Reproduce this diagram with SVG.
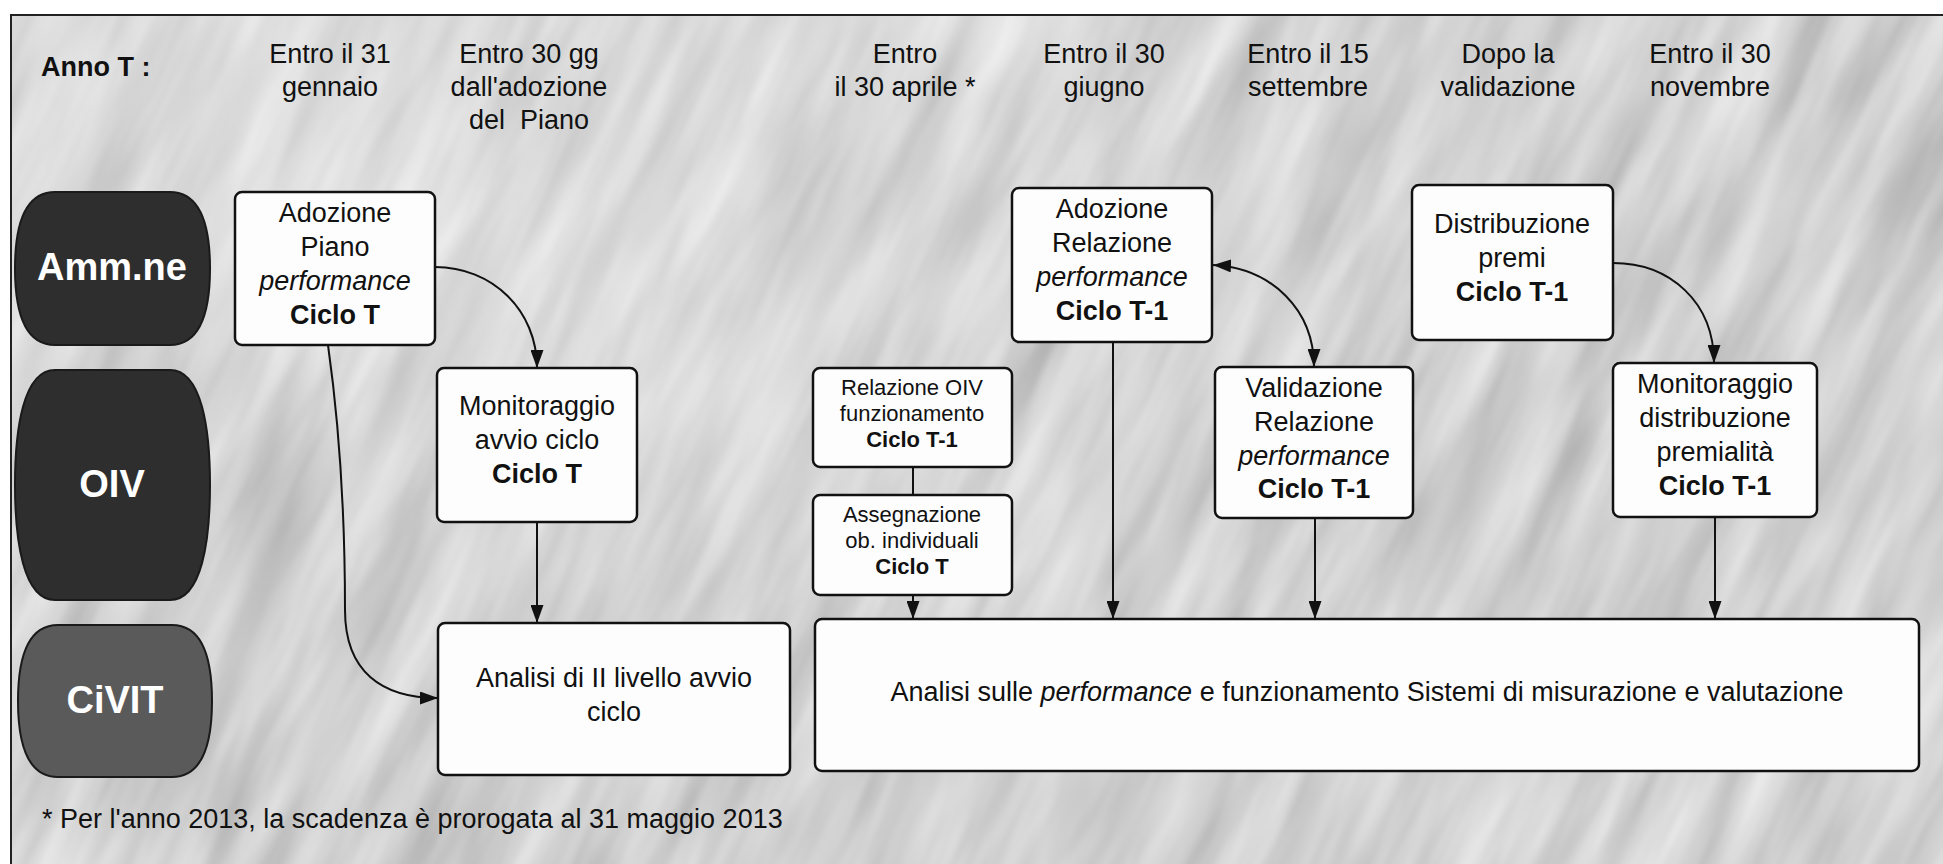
<svg xmlns="http://www.w3.org/2000/svg" width="1943" height="864" viewBox="0 0 1943 864">
<defs>
<style>
.t{font-family:"Liberation Sans",Arial,sans-serif;font-size:27px;fill:#111;text-anchor:middle}
.b{font-weight:bold}
.i{font-style:italic}
.s{font-size:22px}
.lane{font-family:"Liberation Sans",Arial,sans-serif;font-size:38px;font-weight:bold;fill:#fff;text-anchor:middle}
.box{fill:#fdfdfd;stroke:#111;stroke-width:2.5}
.barrel{stroke:#1a1a1a;stroke-width:2}
.conn{fill:none;stroke:#111;stroke-width:2}
</style>
<marker id="ah" viewBox="0 0 18 13" refX="18" refY="6.5" markerWidth="18" markerHeight="13" markerUnits="userSpaceOnUse" orient="auto-start-reverse">
<path d="M0,0 L18,6.5 L0,13 z" fill="#111"/>
</marker>
<filter id="tex" x="0" y="0" width="1" height="1">
<feTurbulence type="fractalNoise" baseFrequency="0.004 0.025" numOctaves="3" seed="7" result="n"/>
<feColorMatrix in="n" type="matrix" values="0.34 0.34 0 0 0.3  0.34 0.34 0 0 0.3  0.34 0.34 0 0 0.3  0 0 0 0 1"/>
</filter>
<radialGradient id="glow" cx="0.2" cy="0.15" r="0.6">
<stop offset="0" stop-color="#ffffff" stop-opacity="0.3"/>
<stop offset="1" stop-color="#ffffff" stop-opacity="0"/>
</radialGradient>
<clipPath id="frame"><rect x="11" y="15" width="1932" height="849"/></clipPath>
</defs>

<rect x="0" y="0" width="1943" height="864" fill="#ffffff"/>
<g id="background" clip-path="url(#frame)">
<rect x="11" y="15" width="1932" height="849" fill="#a8a8a8"/>
<rect x="-700" y="-900" width="3400" height="2600" fill="#a8a8a8" filter="url(#tex)" transform="rotate(-65 970 430)"/>
<rect x="11" y="15" width="1932" height="849" fill="url(#glow)"/>
</g>
<path d="M11,864 V15 H1943" fill="none" stroke="#222" stroke-width="2"/>

<g id="header">
<text class="t b" x="41" y="76" style="text-anchor:start">Anno T :</text>
<text class="t" x="330" y="63">Entro il 31</text>
<text class="t" x="330" y="96">gennaio</text>
<text class="t" x="529" y="63">Entro 30 gg</text>
<text class="t" x="529" y="96">dall'adozione</text>
<text class="t" x="529" y="129" xml:space="preserve">del  Piano</text>
<text class="t" x="905" y="63">Entro</text>
<text class="t" x="905" y="96">il 30 aprile *</text>
<text class="t" x="1104" y="63">Entro il 30</text>
<text class="t" x="1104" y="96">giugno</text>
<text class="t" x="1308" y="63">Entro il 15</text>
<text class="t" x="1308" y="96">settembre</text>
<text class="t" x="1508" y="63">Dopo la</text>
<text class="t" x="1508" y="96">validazione</text>
<text class="t" x="1710" y="63">Entro il 30</text>
<text class="t" x="1710" y="96">novembre</text>
</g>

<g id="lane-amm">
<path class="barrel" fill="#2e2e2e" d="M55,192 H170 C202,192 210,230 210,268.5 C210,307 202,345 170,345 H55 C23,345 15,307 15,268.5 C15,230 23,192 55,192 Z"/>
<text class="lane" x="112" y="280">Amm.ne</text>
</g>
<g id="lane-oiv">
<path class="barrel" fill="#2e2e2e" d="M55,370 H170 C202,370 210,430 210,485 C210,540 202,600 170,600 H55 C23,600 15,540 15,485 C15,430 23,370 55,370 Z"/>
<text class="lane" x="112" y="497">OIV</text>
</g>
<g id="lane-civit">
<path class="barrel" fill="#5a5a5a" d="M58,625 H172 C204,625 212,662 212,701 C212,740 204,777 172,777 H58 C26,777 18,740 18,701 C18,662 26,625 58,625 Z"/>
<text class="lane" x="115" y="713">CiVIT</text>
</g>

<g id="connectors">
<path class="conn" d="M435,267 C492,267 537,310 537,368" marker-end="url(#ah)"/>
<path class="conn" d="M328,345 C340,430 345,520 345,610 C345,672 382,698 438,698" marker-end="url(#ah)"/>
<path class="conn" d="M537,522 L537,623" marker-end="url(#ah)"/>
<path class="conn" d="M913,467 L913,495"/>
<path class="conn" d="M913,595 L913,619" marker-end="url(#ah)"/>
<path class="conn" d="M1113,342 L1113,619" marker-end="url(#ah)"/>
<path class="conn" d="M1213,265 C1272,268 1314,310 1314,367" marker-start="url(#ah)" marker-end="url(#ah)"/>
<path class="conn" d="M1315,518 L1315,619" marker-end="url(#ah)"/>
<path class="conn" d="M1613,263 C1670,263 1714,302 1714,363" marker-end="url(#ah)"/>
<path class="conn" d="M1715,517 L1715,619" marker-end="url(#ah)"/>
</g>

<g id="n-adozione-piano">
<rect class="box" x="235" y="192" width="200" height="153" rx="7"/>
<text class="t" x="335" y="222">Adozione</text>
<text class="t" x="335" y="256">Piano</text>
<text class="t i" x="335" y="290">performance</text>
<text class="t b" x="335" y="324">Ciclo T</text>
</g>
<g id="n-monitoraggio-avvio">
<rect class="box" x="437" y="368" width="200" height="154" rx="7"/>
<text class="t" x="537" y="415">Monitoraggio</text>
<text class="t" x="537" y="449">avvio ciclo</text>
<text class="t b" x="537" y="483">Ciclo T</text>
</g>
<g id="n-analisi-ii">
<rect class="box" x="438" y="623" width="352" height="152" rx="7"/>
<text class="t" x="614" y="687">Analisi di II livello avvio</text>
<text class="t" x="614" y="721">ciclo</text>
</g>
<g id="n-relazione-oiv">
<rect class="box" x="813" y="368" width="199" height="99" rx="7"/>
<text class="t s" x="912" y="395">Relazione OIV</text>
<text class="t s" x="912" y="421">funzionamento</text>
<text class="t s b" x="912" y="447">Ciclo T-1</text>
</g>
<g id="n-assegnazione">
<rect class="box" x="813" y="495" width="199" height="100" rx="7"/>
<text class="t s" x="912" y="522">Assegnazione</text>
<text class="t s" x="912" y="548">ob. individuali</text>
<text class="t s b" x="912" y="574">Ciclo T</text>
</g>
<g id="n-adozione-relazione">
<rect class="box" x="1012" y="188" width="200" height="154" rx="7"/>
<text class="t" x="1112" y="218">Adozione</text>
<text class="t" x="1112" y="252">Relazione</text>
<text class="t i" x="1112" y="286">performance</text>
<text class="t b" x="1112" y="320">Ciclo T-1</text>
</g>
<g id="n-validazione">
<rect class="box" x="1215" y="367" width="198" height="151" rx="7"/>
<text class="t" x="1314" y="397">Validazione</text>
<text class="t" x="1314" y="431">Relazione</text>
<text class="t i" x="1314" y="465">performance</text>
<text class="t b" x="1314" y="498">Ciclo T-1</text>
</g>
<g id="n-distribuzione">
<rect class="box" x="1412" y="185" width="201" height="155" rx="7"/>
<text class="t" x="1512" y="233">Distribuzione</text>
<text class="t" x="1512" y="267">premi</text>
<text class="t b" x="1512" y="301">Ciclo T-1</text>
</g>
<g id="n-monitoraggio-distribuzione">
<rect class="box" x="1613" y="363" width="204" height="154" rx="7"/>
<text class="t" x="1715" y="393">Monitoraggio</text>
<text class="t" x="1715" y="427">distribuzione</text>
<text class="t" x="1715" y="461">premialità</text>
<text class="t b" x="1715" y="495">Ciclo T-1</text>
</g>
<g id="n-analisi-performance">
<rect class="box" x="815" y="619" width="1104" height="152" rx="7"/>
<text class="t" x="1367" y="701">Analisi sulle <tspan style="font-style:italic">performance</tspan> e funzionamento Sistemi di misurazione e valutazione</text>
</g>

<g id="footnote">
<text class="t" x="42" y="828" style="text-anchor:start">* Per l'anno 2013, la scadenza è prorogata al 31 maggio 2013</text>
</g>
</svg>
